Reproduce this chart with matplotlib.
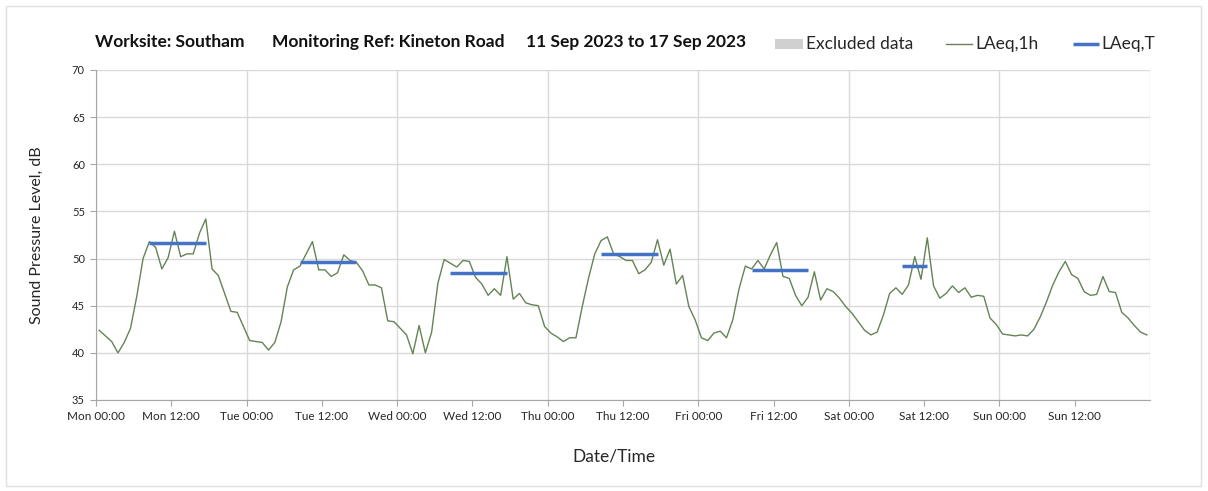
import numpy as np
import matplotlib
matplotlib.use("Agg")
import matplotlib.pyplot as plt
from matplotlib.lines import Line2D
from matplotlib.patches import Rectangle

plt.rcParams['font.family'] = ['Lato', 'DejaVu Sans']

# ---- data ----
hours = np.arange(168) + 0.5   # hourly values, plotted at mid-hour (hours since Mon 00:00)
laeq_1h = [
    42.4, 41.8, 41.2, 40.0, 41.1, 42.6, 46.0, 50.0, 51.8, 51.2, 48.9, 50.1,
    52.9, 50.2, 50.5, 50.5, 52.7, 54.2, 48.9, 48.2, 46.3, 44.4, 44.3, 42.8,
    41.3, 41.2, 41.1, 40.3, 41.1, 43.3, 47.0, 48.8, 49.2, 50.5, 51.8, 48.8,
    48.8, 48.1, 48.5, 50.4, 49.8, 49.6, 48.7, 47.2, 47.2, 46.9, 43.4, 43.3,
    42.6, 41.9, 39.9, 42.9, 40.0, 42.2, 47.4, 49.9, 49.5, 49.1, 49.8, 49.7,
    48.0, 47.3, 46.1, 46.8, 46.1, 50.2, 45.7, 46.3, 45.3, 45.1, 45.0, 42.8,
    42.1, 41.7, 41.2, 41.6, 41.6, 44.9, 47.9, 50.5, 51.9, 52.3, 50.5, 50.2,
    49.8, 49.8, 48.4, 48.8, 49.6, 52.0, 49.3, 51.0, 47.3, 48.2, 44.9, 43.5,
    41.6, 41.3, 42.1, 42.3, 41.6, 43.5, 46.8, 49.2, 48.9, 49.8, 48.9, 50.4,
    51.7, 48.1, 47.9, 46.1, 45.0, 45.9, 48.6, 45.6, 46.8, 46.5, 45.8, 44.9,
    44.2, 43.3, 42.4, 41.9, 42.2, 44.0, 46.3, 46.9, 46.2, 47.2, 50.2, 47.8,
    52.2, 47.1, 45.8, 46.3, 47.1, 46.4, 46.9, 45.9, 46.1, 46.0, 43.7, 43.0,
    42.0, 41.9, 41.8, 41.9, 41.8, 42.5, 43.8, 45.4, 47.2, 48.6, 49.7, 48.3,
    47.9, 46.5, 46.1, 46.2, 48.1, 46.5, 46.4, 44.3, 43.7, 42.9, 42.2, 41.9,
]
laeqT_start = [8.5, 32.5, 56.5, 80.5, 104.5, 128.5]
laeqT_end = [17.5, 41.5, 65.5, 89.5, 113.5, 132.5]
laeqT_value = [51.6, 49.65, 48.5, 50.5, 48.75, 49.2]

tick_hours = list(range(0, 168, 12))
tick_labels = ["Mon 00:00", "Mon 12:00", "Tue 00:00", "Tue 12:00", "Wed 00:00",
               "Wed 12:00", "Thu 00:00", "Thu 12:00", "Fri 00:00", "Fri 12:00",
               "Sat 00:00", "Sat 12:00", "Sun 00:00", "Sun 12:00"]
day_hours = list(range(0, 169, 24))
y_ticks = [35, 40, 45, 50, 55, 60, 65, 70]

title_parts = ["Worksite: Southam", "Monitoring Ref: Kineton Road", "11 Sep 2023 to 17 Sep 2023"]
legend_labels = ["Excluded data", "LAeq,1h", "LAeq,T"]

# ---- style ----
line_green = "#648455"
blue = "#4472c4"
grid_c = "#d9d9d9"
txt_c = "#262626"
W, H = 1208, 491

def fx(px):
    return px / W

def fy(py):
    return 1 - py / H

fig = plt.figure(figsize=(12.08, 4.91), dpi=100)
ax = fig.add_axes([fx(96), fy(400), fx(1150 - 96), (400 - 70) / H])

# outer border
fig.patches.append(Rectangle((fx(6), fy(486)), fx(1195), 480 / H, transform=fig.transFigure,
                             fill=False, edgecolor="#e0e0e0", linewidth=1))

for h in day_hours:
    ax.axvline(h, color=grid_c, lw=1, zorder=0)
for y in y_ticks:
    ax.axhline(y, color=grid_c, lw=1, zorder=0)

ax.plot(hours, laeq_1h, color=line_green, lw=1.0, zorder=3)
for s, e, v in zip(laeqT_start, laeqT_end, laeqT_value):
    ax.plot([s, e], [v, v], color=blue, lw=2.5, solid_capstyle='butt', zorder=4)

ax.set_xlim(0, 168)
ax.set_ylim(35, 70)
ax.set_xticks(tick_hours)
ax.set_xticklabels(tick_labels, fontsize=8.5, color=txt_c)
ax.set_yticks(y_ticks)
ax.set_yticklabels([str(v) for v in y_ticks], fontsize=8, color=txt_c)
ax.tick_params(axis='both', direction='out', length=4, width=0.8, color="#a6a6a6", pad=4)

for side in ['top', 'right']:
    ax.spines[side].set_visible(False)
ax.spines['left'].set_color("#a6a6a6")
ax.spines['bottom'].set_color("#a6a6a6")

fig.text(fx(37), fy(235), "Sound Pressure Level, dB", fontsize=11.5, color=txt_c,
         rotation=90, ha='center', va='center')
fig.text(fx(614), fy(456), "Date/Time", fontsize=12.5, color=txt_c, ha='center', va='center')

for xp, txt in zip([95, 272, 526], title_parts):
    fig.text(fx(xp), fy(42), txt, fontsize=12.5, fontweight='bold', color="#111111",
             ha='left', va='center')

# legend (drawn manually to match positions)
ly = fy(44)
fig.patches.append(Rectangle((fx(775), fy(49)), fx(28), 10 / H, transform=fig.transFigure,
                             facecolor="#d0d0d0", edgecolor="none"))
fig.add_artist(Line2D([fx(946), fx(972)], [ly, ly], transform=fig.transFigure,
                      color=line_green, lw=1))
fig.add_artist(Line2D([fx(1073), fx(1099)], [ly, ly], transform=fig.transFigure,
                      color=blue, lw=2.5, solid_capstyle='butt'))
for xp, txt in zip([806, 975, 1101], legend_labels):
    fig.text(fx(xp), ly, txt, fontsize=12.5, color=txt_c, ha='left', va='center')

fig.savefig("out.png", dpi=100)
